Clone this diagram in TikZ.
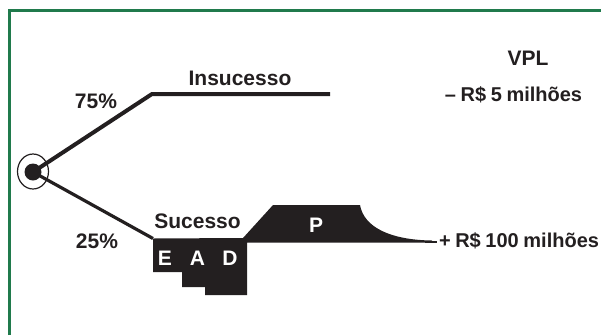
\documentclass[tikz,border=0pt]{standalone}
\usepackage{fontspec}
\setmainfont{Liberation Sans}
\usetikzlibrary{shapes.geometric}
\definecolor{frame}{RGB}{32,122,76}
\definecolor{ink}{RGB}{35,31,32}
\newcommand\mytightsp{\spaceskip=4.6pt\relax}
\begin{document}
\begin{tikzpicture}[x=1pt,y=-1pt,
  lbl/.style={inner sep=0pt,outer sep=0pt,text=ink,font=\fontsize{21}{23}\selectfont\bfseries,anchor=base},
  vlbl/.style={lbl,font=\fontsize{20}{22}\selectfont\bfseries},
  wlbl/.style={lbl,text=white},
  branch/.style={draw=ink,line width=4pt,line join=miter}]
\useasboundingbox (0,0) rectangle (601,335);
% frame
\draw[frame,line width=3pt] (9,335) -- (9,10.5) -- (601,10.5);
% decision node
\node[draw=ink,line width=1.2pt,ellipse,minimum width=31pt,minimum height=35pt,inner sep=0pt] (dec) at (33,171.5) {};
\fill[ink] (33,172) circle (8.5pt);
\coordinate (c) at (33,172);
\coordinate (up) at (152,94);
\coordinate (upend) at (330,94);
\coordinate (lo) at (153,238.5);
% branches
\draw[branch] (c) -- (up) -- (upend);
\draw[branch,line width=3.2pt] (c) -- (lo);
% success profile
\fill[ink] (lo) -- (243,238) -- (273,205) -- (360,205)
  .. controls (364,228) and (392,240) .. (432,240.5) -- (432,242.5) -- (247,242.5)
  -- (247,295) -- (205,295) -- (205,287) -- (182,287) -- (182,272) -- (153,272) -- cycle;
\coordinate (tail) at (437,241.5);
\draw[ink,line width=2pt] (425,241.5) -- (tail);
% labels
\node[lbl] (ins) at (240,85) {Insucesso};
\node[lbl] (p75) at (96,108) {75\%};
\node[lbl] (p25) at (97,248) {25\%};
\node[lbl] (suc) at (197.5,228) {Sucesso};
\node[wlbl] (e) at (165,265) {E};
\node[wlbl] (a) at (197.5,265) {A};
\node[wlbl] (d) at (230,265) {D};
\node[wlbl] (p) at (316,232) {P};
\node[lbl] (vpl) at (528,65) {VPL};
\node[vlbl] (neg) at (513.5,101) {\mytightsp – R\$ 5 milhões};
\node[vlbl,anchor=base west] (pos) at (439,247) {\mytightsp + R\$ 100 milhões};
\end{tikzpicture}
\end{document}
